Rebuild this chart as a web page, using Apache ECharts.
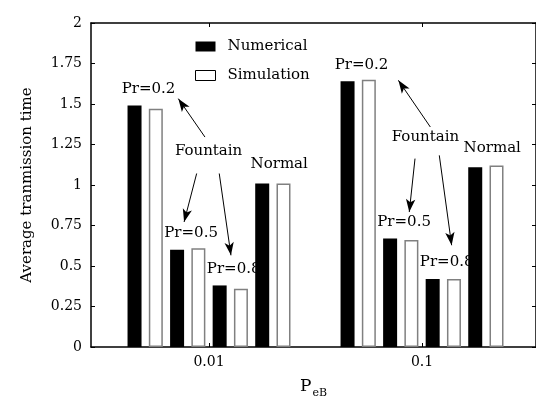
<!DOCTYPE html>
<html>
<head>
<meta charset="utf-8">
<script src="https://cdn.jsdelivr.net/npm/echarts@6.0.0/dist/echarts.min.js"></script>
<style>
html, body { margin: 0; padding: 0; background: #fff; }
#chart { width: 536px; height: 399px; }
</style>
</head>
<body>
<div id="chart"></div>
<script>
// P_eB values on the x axis
var categories = ['0.01', '0.1'];
// bar pairs inside each group
var pairNames = ['Pr=0.2', 'Pr=0.5', 'Pr=0.8', 'Normal'];
// [at 0.01, at 0.1] for each pair
var numerical = [
    [1.49, 1.64],
    [0.60, 0.67],
    [0.38, 0.42],
    [1.01, 1.11]
];
var simulation = [
    [1.47, 1.65],
    [0.61, 0.66],
    [0.36, 0.42],
    [1.01, 1.12]
];
// "Fountain" notes and their arrows, in axis units (x: group index + 1)
var fountainNotes = [[0.998, 1.208], [2.016, 1.294]];
var fountainArrows = [
    [[0.981, 1.296], [0.856, 1.533]],
    [[0.942, 1.071], [0.883, 0.772]],
    [[1.048, 1.071], [1.103, 0.566]],
    [[2.039, 1.358], [1.889, 1.646]],
    [[1.967, 1.163], [1.940, 0.833]],
    [[2.081, 1.183], [2.139, 0.628]]
];

var font = 'DejaVu Serif';
var groupPos = categories.map(function (c, i) { return i + 1; });

var chart = echarts.init(document.getElementById('chart'));

var series = [];
pairNames.forEach(function (label, p) {
    series.push({
        name: 'Numerical',
        type: 'bar',
        barWidth: 14,
        barGap: '52%',
        itemStyle: { color: '#000' },
        label: {
            show: true,
            position: 'top',
            offset: p === 3 ? [17, -7] : [14, -4],
            formatter: label,
            color: '#000',
            fontFamily: font,
            fontSize: 15
        },
        data: groupPos.map(function (x, i) { return [x, numerical[p][i]]; })
    });
    series.push({
        name: 'Simulation',
        type: 'bar',
        barWidth: 14,
        barGap: '52%',
        itemStyle: { color: '#fff', borderColor: '#808080', borderWidth: 1.5 },
        data: groupPos.map(function (x, i) { return [x, simulation[p][i]]; })
    });
});

// arrows + "Fountain" text, on an empty line series so the bar offset is not applied
series.push({
    name: 'notes',
    type: 'line',
    data: [],
    markLine: {
        silent: true,
        symbol: ['none', 'arrow'],
        symbolSize: [7, 13],
        lineStyle: { color: '#000', width: 1, type: 'solid' },
        label: { show: false },
        data: fountainArrows.map(function (a) {
            return [{ coord: a[0] }, { coord: a[1] }];
        })
    },
    markPoint: {
        silent: true,
        symbol: 'rect',
        symbolSize: 1,
        itemStyle: { color: 'rgba(0,0,0,0)' },
        label: {
            show: true,
            position: 'inside',
            formatter: 'Fountain',
            color: '#000',
            fontFamily: font,
            fontSize: 15
        },
        data: fountainNotes.map(function (c) { return { coord: c }; })
    }
});

var axisBlack = { color: '#000', width: 1.5 };

var option = {
    animation: false,
    backgroundColor: '#fff',
    grid: { left: 91, right: 0, top: 23, bottom: 52, outerBoundsMode: 'none', containLabel: false },
    legend: {
        orient: 'vertical',
        left: 195,
        top: 39,
        padding: 0,
        itemWidth: 20,
        itemHeight: 10,
        itemGap: 14,
        icon: 'rect',
        textStyle: { fontFamily: font, fontSize: 15, color: '#000', padding: [0, 0, 0, 7] },
        data: [
            { name: 'Numerical' },
            { name: 'Simulation', itemStyle: { borderColor: '#000', borderWidth: 1 } }
        ]
    },
    xAxis: [
        {
            type: 'value',
            min: 0.446,
            max: 2.535,
            axisLine: { show: true, onZero: false, lineStyle: axisBlack },
            axisTick: { show: true, inside: true, length: 4, customValues: groupPos, lineStyle: { color: '#000' } },
            axisLabel: {
                customValues: groupPos,
                formatter: function (v) { return categories[Math.round(v) - 1]; },
                fontFamily: font,
                fontSize: 14,
                color: '#000',
                margin: 8
            },
            splitLine: { show: false },
            name: '{p|P}{s|eB}',
            nameLocation: 'middle',
            nameGap: 27,
            nameTextStyle: {
                rich: {
                    p: { fontFamily: font, fontSize: 17, color: '#000' },
                    s: { fontFamily: font, fontSize: 11, color: '#000', padding: [14, 0, 0, 1] }
                }
            }
        },
        {
            type: 'value',
            position: 'top',
            min: 0.446,
            max: 2.535,
            axisLine: { show: true, onZero: false, lineStyle: axisBlack },
            axisTick: { show: true, inside: true, length: 4, customValues: groupPos, lineStyle: { color: '#000' } },
            axisLabel: { show: false },
            splitLine: { show: false }
        }
    ],
    yAxis: [
        {
            type: 'value',
            min: 0,
            max: 2,
            interval: 0.25,
            axisLine: { show: true, lineStyle: axisBlack },
            axisTick: { show: true, inside: true, length: 4, lineStyle: { color: '#000' } },
            axisLabel: { fontFamily: font, fontSize: 14, color: '#000', margin: 9 },
            splitLine: { show: false },
            name: 'Average tranmission time',
            nameLocation: 'middle',
            nameGap: 56,
            nameTextStyle: { fontFamily: font, fontSize: 15, color: '#000' }
        },
        {
            type: 'value',
            position: 'right',
            min: 0,
            max: 2,
            interval: 0.25,
            axisLine: { show: true, lineStyle: axisBlack },
            axisTick: { show: true, inside: true, length: 4, lineStyle: { color: '#000' } },
            axisLabel: { show: false },
            splitLine: { show: false }
        }
    ],
    series: series
};

chart.setOption(option);
</script>
</body>
</html>
